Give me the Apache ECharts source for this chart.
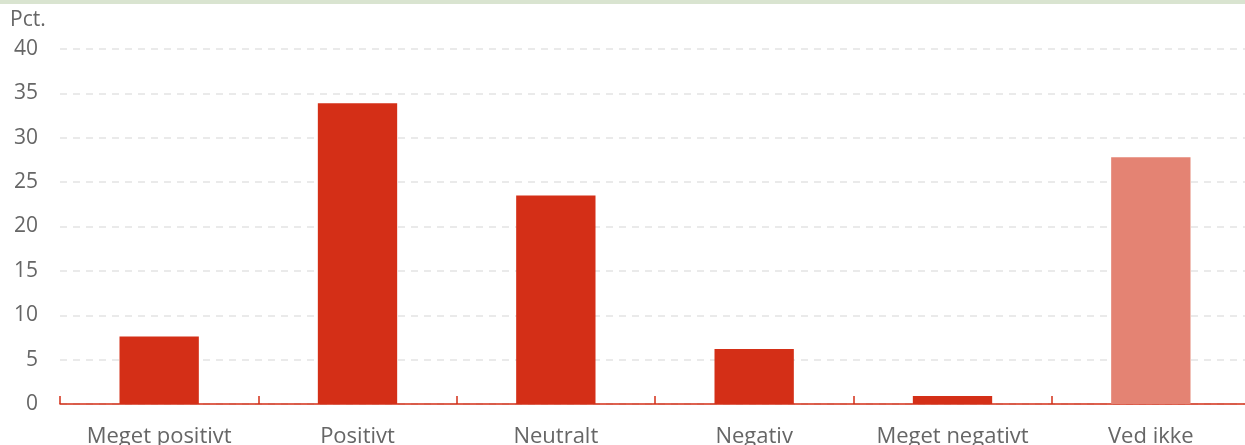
<!DOCTYPE html>
<html>
<head>
<meta charset="utf-8">
<script src="https://cdn.jsdelivr.net/npm/echarts@6/dist/echarts.min.js"></script>
<style>
  html, body { margin: 0; padding: 0; background: #fff; }
  .topband { position: absolute; left: 0; top: 0; width: 1245px; height: 4px; background: #d9e4d0; }
  #chart { width: 1245px; height: 445px; }
</style>
</head>
<body>
<div class="topband"></div>
<div id="chart"></div>
<script>
const categories = ['Meget positivt', 'Positivt', 'Neutralt', 'Negativ', 'Meget negativt', 'Ved ikke'];
const values = [7.6, 33.9, 23.5, 6.2, 0.9, 27.8];
const barColors = ['#d42f17', '#d42f17', '#d42f17', '#d42f17', '#d42f17', '#e48373'];

const chart = echarts.init(document.getElementById('chart'));

// søjlerne med farve pr. kategori
const barData = values.map((v, i) => ({ value: v, itemStyle: { color: barColors[i] } }));

const option = {
  animation: false,
  textStyle: { fontFamily: 'Open Sans' },
  grid: { left: 60, right: -5, top: 49, bottom: 41, containLabel: false, outerBoundsMode: 'none' },
  xAxis: {
    type: 'category',
    data: categories,
    axisLine: { show: true, lineStyle: { color: '#d42f17', width: 1.5 } },
    axisTick: { show: true, inside: true, interval: 0, length: 8, lineStyle: { color: '#d42f17', width: 1.5 } },
    axisLabel: { color: '#666', fontSize: 22, fontFamily: 'Open Sans', margin: 22, interval: 0 }
  },
  yAxis: {
    type: 'value',
    min: 0,
    max: 40,
    interval: 5,
    name: 'Pct.',
    nameLocation: 'end',
    nameGap: 18,
    nameTextStyle: { color: '#666', fontSize: 21, fontFamily: 'Open Sans', align: 'left', padding: [0, 0, 0, -50] },
    axisLine: { show: false },
    axisTick: { show: false },
    axisLabel: { color: '#666', fontSize: 21, fontFamily: 'Open Sans', margin: 22 },
    splitLine: { lineStyle: { color: '#e3e3e3', type: [7, 6], width: 1.5 } }
  },
  series: [{
    type: 'bar',
    data: barData,
    barWidth: '40%'
  }]
};

chart.setOption(option);
</script>
</body>
</html>
